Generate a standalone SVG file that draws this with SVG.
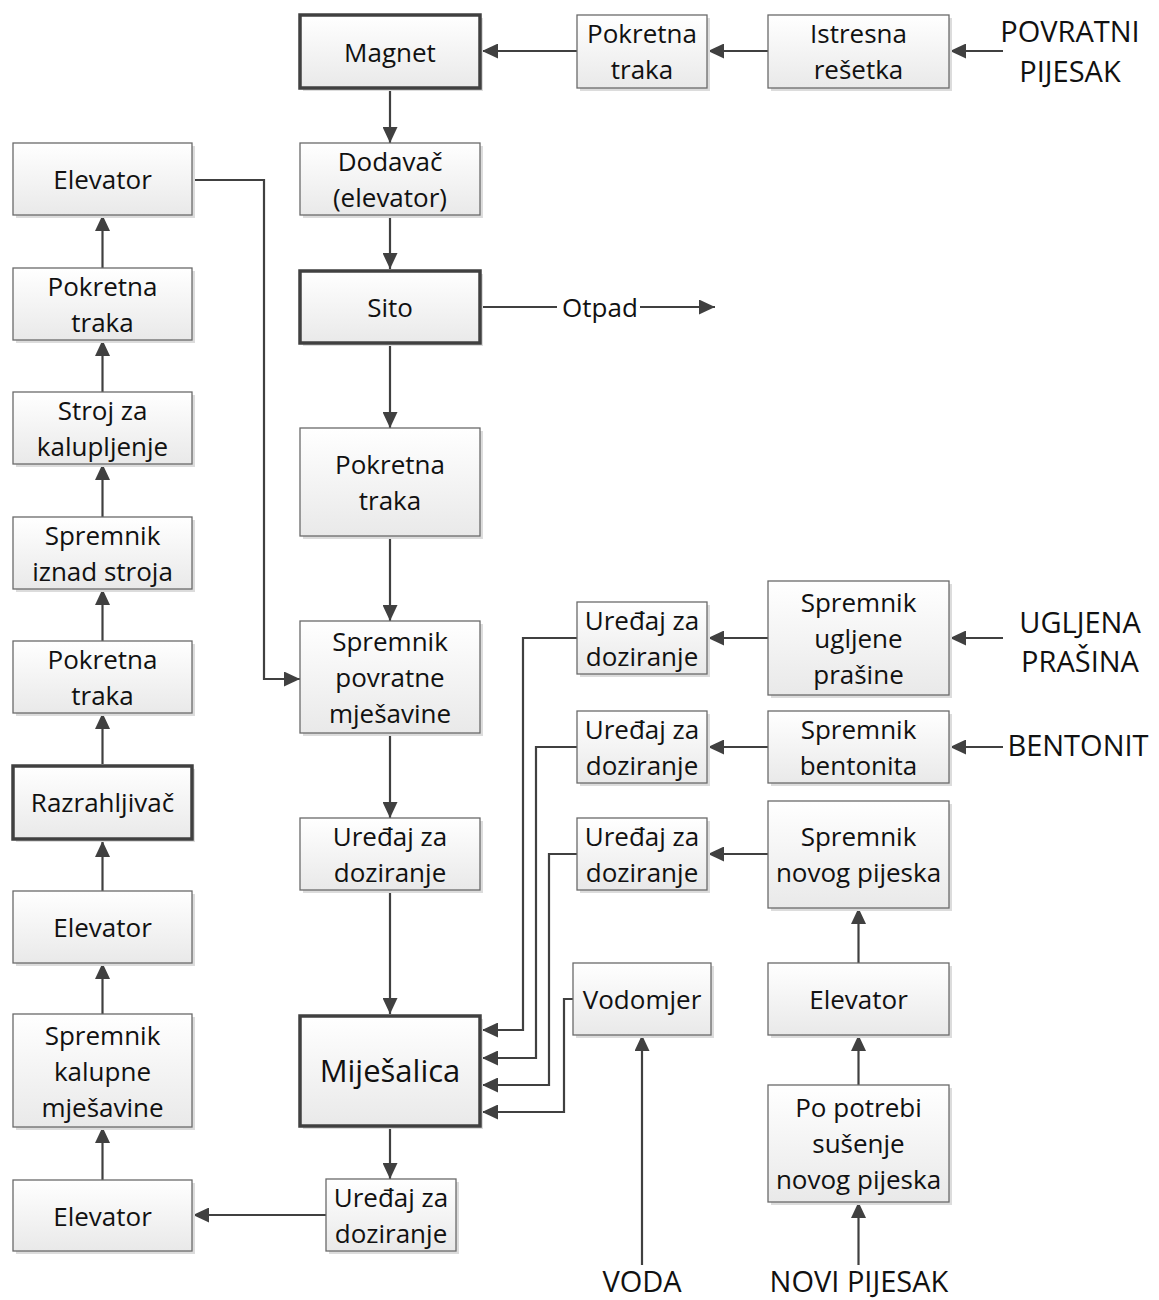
<svg xmlns="http://www.w3.org/2000/svg" width="1159" height="1300" viewBox="0 0 1159 1300">
<defs>
<linearGradient id="g" x1="0" y1="0" x2="0" y2="1">
<stop offset="0" stop-color="#ffffff"/>
<stop offset="1" stop-color="#e9e9e9"/>
</linearGradient>
<marker id="a" markerUnits="userSpaceOnUse" markerWidth="17" markerHeight="15" refX="16" refY="7.5" orient="auto">
<path d="M0,0 L16,7.5 L0,15 z" fill="#404040"/>
</marker>
</defs>
<style>
.sh{fill:#dcdcdc}
.b{fill:url(#g);stroke:#6a6a6a;stroke-width:1.3}
.t{fill:url(#g);stroke:#404040;stroke-width:3.5}
text{font-family:"Open Sans","Noto Sans",sans-serif;font-size:26px;fill:#111;text-anchor:middle}
.big{font-size:31px}
.out{font-size:29px}
#connectors path,#connectors line{fill:none;stroke:#404040;stroke-width:2.2}
</style>
<rect width="1159" height="1300" fill="#fff"/>

<g id="connectors">
<line x1="1003" y1="51" x2="950" y2="51" marker-end="url(#a)"/>
<line x1="768" y1="51" x2="708" y2="51" marker-end="url(#a)"/>
<line x1="577" y1="51" x2="482" y2="51" marker-end="url(#a)"/>
<line x1="390" y1="90" x2="390" y2="143" marker-end="url(#a)"/>
<line x1="390" y1="215" x2="390" y2="269" marker-end="url(#a)"/>
<line x1="482" y1="307" x2="557" y2="307"/>
<line x1="640" y1="307" x2="715" y2="307" marker-end="url(#a)"/>
<line x1="390" y1="345" x2="390" y2="428" marker-end="url(#a)"/>
<line x1="390" y1="536" x2="390" y2="621" marker-end="url(#a)"/>
<line x1="390" y1="733" x2="390" y2="818" marker-end="url(#a)"/>
<line x1="390" y1="890" x2="390" y2="1014" marker-end="url(#a)"/>
<line x1="390" y1="1128" x2="390" y2="1179" marker-end="url(#a)"/>
<line x1="326" y1="1215" x2="193" y2="1215" marker-end="url(#a)"/>
<line x1="102.5" y1="1180" x2="102.5" y2="1127" marker-end="url(#a)"/>
<line x1="102.5" y1="1014" x2="102.5" y2="963" marker-end="url(#a)"/>
<line x1="102.5" y1="891" x2="102.5" y2="841" marker-end="url(#a)"/>
<line x1="102.5" y1="764" x2="102.5" y2="713" marker-end="url(#a)"/>
<line x1="102.5" y1="641" x2="102.5" y2="589" marker-end="url(#a)"/>
<line x1="102.5" y1="517" x2="102.5" y2="464" marker-end="url(#a)"/>
<line x1="102.5" y1="392" x2="102.5" y2="340" marker-end="url(#a)"/>
<line x1="102.5" y1="268" x2="102.5" y2="215" marker-end="url(#a)"/>
<path d="M192,180 H264 V679 H300" marker-end="url(#a)"/>
<line x1="1003" y1="638" x2="950" y2="638" marker-end="url(#a)"/>
<line x1="768" y1="638" x2="708" y2="638" marker-end="url(#a)"/>
<line x1="1003" y1="747" x2="950" y2="747" marker-end="url(#a)"/>
<line x1="768" y1="747" x2="708" y2="747" marker-end="url(#a)"/>
<line x1="768" y1="854" x2="708" y2="854" marker-end="url(#a)"/>
<line x1="858.5" y1="963" x2="858.5" y2="908" marker-end="url(#a)"/>
<line x1="858.5" y1="1085" x2="858.5" y2="1035" marker-end="url(#a)"/>
<line x1="858.5" y1="1265" x2="858.5" y2="1202" marker-end="url(#a)"/>
<line x1="642" y1="1265" x2="642" y2="1035" marker-end="url(#a)"/>
<path d="M577,638 H523 V1030 H482" marker-end="url(#a)"/>
<path d="M577,747 H536 V1058 H482" marker-end="url(#a)"/>
<path d="M577,854 H549 V1085 H482" marker-end="url(#a)"/>
<path d="M573,999 H564 V1112 H482" marker-end="url(#a)"/>
</g>

<g id="n-magnet"><rect class="sh" x="303" y="18" width="180" height="73"/><rect class="t" x="300" y="15" width="180" height="73"/><text x="390" y="62">Magnet</text></g>
<g id="n-traka-top"><rect class="sh" x="580" y="18" width="130" height="73"/><rect class="b" x="577" y="15" width="130" height="73"/><text x="642" y="43">Pokretna</text><text x="642" y="79">traka</text></g>
<g id="n-istresna"><rect class="sh" x="771" y="18" width="181" height="73"/><rect class="b" x="768" y="15" width="181" height="73"/><text x="858.5" y="43">Istresna</text><text x="858.5" y="79">rešetka</text></g>
<g id="n-dodavac"><rect class="sh" x="303" y="146" width="180" height="72"/><rect class="b" x="300" y="143" width="180" height="72"/><text x="390" y="171">Dodavač</text><text x="390" y="207">(elevator)</text></g>
<g id="n-sito"><rect class="sh" x="303" y="274" width="180" height="72"/><rect class="t" x="300" y="271" width="180" height="72"/><text x="390" y="317">Sito</text></g>
<g id="n-traka-mid"><rect class="sh" x="303" y="431" width="180" height="108"/><rect class="b" x="300" y="428" width="180" height="108"/><text x="390" y="474">Pokretna</text><text x="390" y="510">traka</text></g>
<g id="n-spremnik-povratne"><rect class="sh" x="303" y="624" width="180" height="112"/><rect class="b" x="300" y="621" width="180" height="112"/><text x="390" y="651">Spremnik</text><text x="390" y="687">povratne</text><text x="390" y="723">mješavine</text></g>
<g id="n-uredjaj-mid"><rect class="sh" x="303" y="821" width="180" height="72"/><rect class="b" x="300" y="818" width="180" height="72"/><text x="390" y="846">Uređaj za</text><text x="390" y="882">doziranje</text></g>
<g id="n-mjesalica"><rect class="sh" x="303" y="1019" width="180" height="110"/><rect class="t" x="300" y="1016" width="180" height="110"/><text class="big" x="390" y="1082">Miješalica</text></g>
<g id="n-uredjaj-bottom"><rect class="sh" x="329" y="1182" width="130" height="72"/><rect class="b" x="326" y="1179" width="130" height="72"/><text x="391" y="1207">Uređaj za</text><text x="391" y="1243">doziranje</text></g>

<g id="n-elevator-l1"><rect class="sh" x="16" y="146" width="179" height="72"/><rect class="b" x="13" y="143" width="179" height="72"/><text x="102.5" y="189">Elevator</text></g>
<g id="n-traka-l1"><rect class="sh" x="16" y="271" width="179" height="72"/><rect class="b" x="13" y="268" width="179" height="72"/><text x="102.5" y="296">Pokretna</text><text x="102.5" y="332">traka</text></g>
<g id="n-stroj"><rect class="sh" x="16" y="395" width="179" height="72"/><rect class="b" x="13" y="392" width="179" height="72"/><text x="102.5" y="420">Stroj za</text><text x="102.5" y="456">kalupljenje</text></g>
<g id="n-spremnik-iznad"><rect class="sh" x="16" y="520" width="179" height="72"/><rect class="b" x="13" y="517" width="179" height="72"/><text x="102.5" y="545">Spremnik</text><text x="102.5" y="581">iznad stroja</text></g>
<g id="n-traka-l2"><rect class="sh" x="16" y="644" width="179" height="72"/><rect class="b" x="13" y="641" width="179" height="72"/><text x="102.5" y="669">Pokretna</text><text x="102.5" y="705">traka</text></g>
<g id="n-razrahljivac"><rect class="sh" x="16" y="769" width="179" height="73"/><rect class="t" x="13" y="766" width="179" height="73"/><text x="102.5" y="812">Razrahljivač</text></g>
<g id="n-elevator-l2"><rect class="sh" x="16" y="894" width="179" height="72"/><rect class="b" x="13" y="891" width="179" height="72"/><text x="102.5" y="937">Elevator</text></g>
<g id="n-spremnik-kalupne"><rect class="sh" x="16" y="1017" width="179" height="113"/><rect class="b" x="13" y="1014" width="179" height="113"/><text x="102.5" y="1045">Spremnik</text><text x="102.5" y="1081">kalupne</text><text x="102.5" y="1117">mješavine</text></g>
<g id="n-elevator-l3"><rect class="sh" x="16" y="1183" width="179" height="71"/><rect class="b" x="13" y="1180" width="179" height="71"/><text x="102.5" y="1226">Elevator</text></g>

<g id="n-uredjaj-r1"><rect class="sh" x="580" y="605" width="130" height="72"/><rect class="b" x="577" y="602" width="130" height="72"/><text x="642" y="630">Uređaj za</text><text x="642" y="666">doziranje</text></g>
<g id="n-uredjaj-r2"><rect class="sh" x="580" y="714" width="130" height="72"/><rect class="b" x="577" y="711" width="130" height="72"/><text x="642" y="739">Uređaj za</text><text x="642" y="775">doziranje</text></g>
<g id="n-uredjaj-r3"><rect class="sh" x="580" y="821" width="130" height="72"/><rect class="b" x="577" y="818" width="130" height="72"/><text x="642" y="846">Uređaj za</text><text x="642" y="882">doziranje</text></g>
<g id="n-vodomjer"><rect class="sh" x="576" y="966" width="138" height="72"/><rect class="b" x="573" y="963" width="138" height="72"/><text x="642" y="1009">Vodomjer</text></g>

<g id="n-spremnik-ugljene"><rect class="sh" x="771" y="584" width="181" height="114"/><rect class="b" x="768" y="581" width="181" height="114"/><text x="858.5" y="612">Spremnik</text><text x="858.5" y="648">ugljene</text><text x="858.5" y="684">prašine</text></g>
<g id="n-spremnik-bentonita"><rect class="sh" x="771" y="714" width="181" height="72"/><rect class="b" x="768" y="711" width="181" height="72"/><text x="858.5" y="739">Spremnik</text><text x="858.5" y="775">bentonita</text></g>
<g id="n-spremnik-novog"><rect class="sh" x="771" y="804" width="181" height="107"/><rect class="b" x="768" y="801" width="181" height="107"/><text x="858.5" y="846">Spremnik</text><text x="858.5" y="882">novog pijeska</text></g>
<g id="n-elevator-r"><rect class="sh" x="771" y="966" width="181" height="72"/><rect class="b" x="768" y="963" width="181" height="72"/><text x="858.5" y="1009">Elevator</text></g>
<g id="n-susenje"><rect class="sh" x="771" y="1088" width="181" height="117"/><rect class="b" x="768" y="1085" width="181" height="117"/><text x="858.5" y="1117">Po potrebi</text><text x="858.5" y="1153">sušenje</text><text x="858.5" y="1189">novog pijeska</text></g>

<g id="labels">
<text x="600" y="317">Otpad</text>
<text class="out" x="1070" y="42">POVRATNI</text>
<text class="out" x="1070" y="82">PIJESAK</text>
<text class="out" x="1080" y="633">UGLJENA</text>
<text class="out" x="1080" y="672">PRAŠINA</text>
<text class="out" x="1078" y="756">BENTONIT</text>
<text class="out" x="642" y="1292">VODA</text>
<text class="out" x="859" y="1292">NOVI PIJESAK</text>
</g>
</svg>
